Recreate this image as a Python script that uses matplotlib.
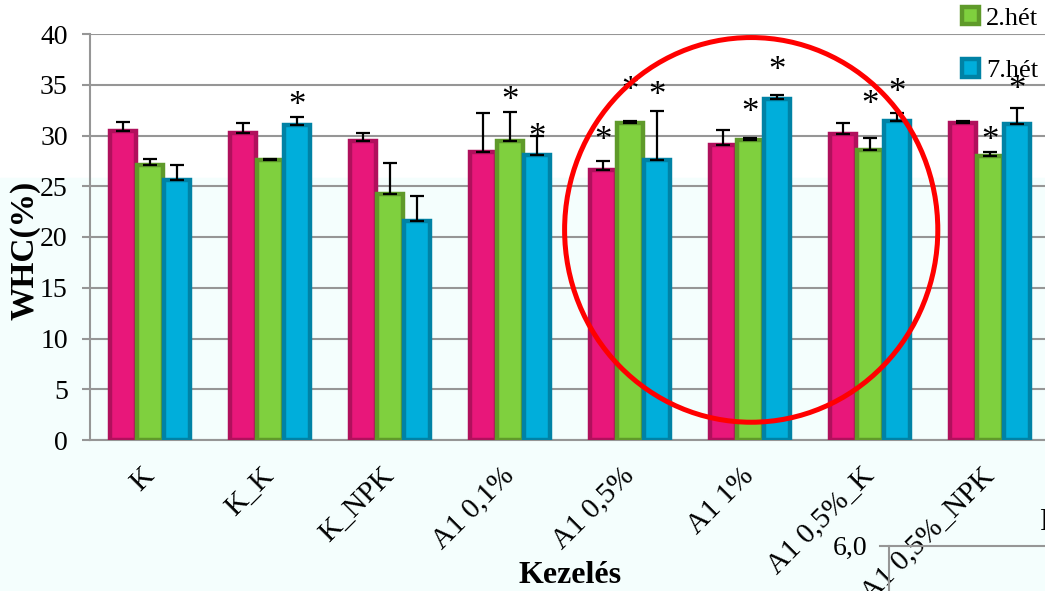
import matplotlib
matplotlib.use("Agg")
import matplotlib.pyplot as plt
from matplotlib.patches import Ellipse, Rectangle
from matplotlib.lines import Line2D
import matplotlib.transforms as mtransforms
import numpy as np

plt.rcParams['font.family'] = ['Liberation Serif', 'DejaVu Serif']

treatments = ["K", "K_K", "K_NPK", "A1 0,1%", "A1 0,5%", "A1 1%", "A1 0,5%_K", "A1 0,5%_NPK"]
weeks = ["0.hét", "2.hét", "7.hét"]

whc_w0 = [30.4, 30.2, 29.5, 28.4, 26.6, 29.1, 30.1, 31.2]
whc_w2 = [27.1, 27.6, 24.2, 29.5, 31.2, 29.6, 28.6, 28.0]
whc_w7 = [25.6, 31.0, 21.6, 28.1, 27.6, 33.6, 31.4, 31.1]

err_w0 = [0.9, 1.0, 0.7, 3.8, 0.9, 1.4, 1.1, 0.2]
err_w2 = [0.6, 0.1, 3.1, 2.8, 0.2, 0.2, 1.2, 0.4]
err_w7 = [1.5, 0.8, 2.4, 1.9, 4.8, 0.4, 0.8, 1.6]

# significance marks: height of the star in WHC units, None = no star
star_w0 = [None, None, None, None, 30.2, None, None, None]
star_w2 = [None, None, None, 34.2, 35.2, 33.0, 33.8, 30.2]
star_w7 = [None, 33.7, None, 30.5, 34.7, 37.1, 35.0, 35.3]

fills = ["#E8177A", "#7FD03E", "#00AEDB"]
edges = ["#B0105C", "#5F9A2A", "#0082A5"]
grey = "#969696"

W, H = 1045, 591
fig = plt.figure(figsize=(W / 100, H / 100), dpi=100)

# slide background: white top, pale cyan lower part
fig.patches.append(Rectangle((0, 0), 1, 1 - 178 / H, transform=fig.transFigure,
                             color="#F4FEFD", zorder=-10))

ax = fig.add_axes([90 / W, 1 - 440 / H, 960 / W, 406 / H])
ax.set_facecolor("none")

x = np.arange(len(treatments))
offsets = [-0.225, 0.0, 0.225]
series = [whc_w0, whc_w2, whc_w7]
errors = [err_w0, err_w2, err_w7]
stars = [star_w0, star_w2, star_w7]

star_off = mtransforms.offset_copy(ax.transData, fig=fig, x=0, y=-6, units="points")
handles = []
for k in range(3):
    b = ax.bar(x + offsets[k], series[k], width=0.215, color=fills[k],
               edgecolor=edges[k], linewidth=3.2, label=weeks[k], zorder=3)
    handles.append(b)
    ax.errorbar(x + offsets[k], series[k],
                yerr=[np.zeros(len(x)), errors[k]], fmt="none",
                ecolor="black", elinewidth=1.6, capsize=5, capthick=1.6, zorder=4)
    for i, s in enumerate(stars[k]):
        if s is not None:
            ax.text(x[i] + offsets[k], s, "*", ha="center", va="center",
                    fontsize=25, transform=star_off, zorder=5)

ax.set_xlim(-0.5, len(treatments) - 0.5)
ax.set_ylim(0, 40)
ax.set_yticks(range(0, 41, 5))
ax.yaxis.grid(True, color=grey, linewidth=1.5)
ax.set_axisbelow(True)
for side in ["top", "right"]:
    ax.spines[side].set_visible(False)
for side in ["left", "bottom"]:
    ax.spines[side].set_color(grey)
    ax.spines[side].set_linewidth(1.5)
ax.tick_params(axis="y", direction="out", length=6, width=1.5, color=grey,
               pad=10, labelsize=20)
ax.tick_params(axis="x", length=0, pad=23)
ax.set_xticks(x)
ax.set_xticklabels(treatments, rotation=45, ha="right", va="center",
                   rotation_mode="anchor", fontsize=21)

ax.set_xlabel("Kezelés", fontsize=23, fontweight="bold")
ax.xaxis.set_label_coords(0.5, -(561 - 440) / 406)
ax.set_ylabel("WHC(%)", fontsize=24, fontweight="bold")
ax.yaxis.set_label_coords(-(90 - 41) / 960, (440 - 250) / 406)

# highlight of the A1 treatments
ax.add_patch(Ellipse((5.01, 20.7), width=3.11, height=37.9, fill=False,
                     edgecolor="#FF0000", linewidth=3.6, clip_on=False, zorder=10))

leg = ax.legend(handles=handles, loc="lower left", frameon=False,
                bbox_to_anchor=(962 / W, 1 - 82 / H), bbox_transform=fig.transFigure,
                fontsize=19, handlelength=0.65, handleheight=0.65,
                handletextpad=0.25, labelspacing=1.1, borderpad=0, borderaxespad=0)

# corner of the neighbouring chart
fig.add_artist(Line2D([880 / W, 1], [1 - 546 / H] * 2, color=grey, linewidth=1.5))
fig.add_artist(Line2D([889 / W] * 2, [1 - 546 / H, 0], color=grey, linewidth=1.5))
fig.text(867 / W, 1 - 548 / H, "6,0", ha="right", va="center", fontsize=20)
fig.text(1039 / W, 1 - 522 / H, "P", ha="left", va="center", fontsize=22)

fig.savefig("out.png", dpi=100)
